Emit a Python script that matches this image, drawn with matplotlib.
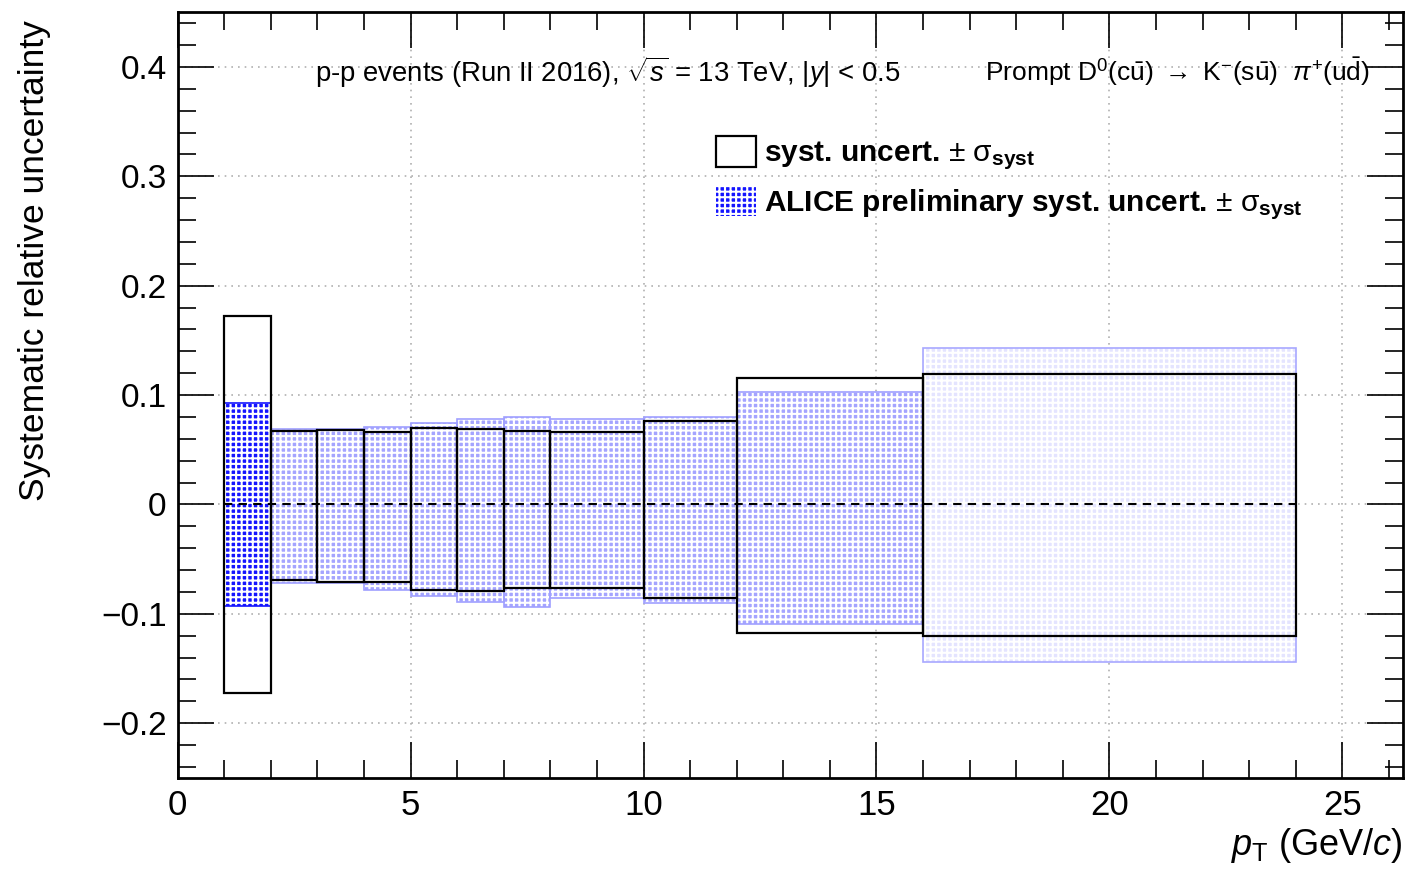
import matplotlib
matplotlib.use("Agg")
import matplotlib.pyplot as plt
from matplotlib.patches import Rectangle, Patch
from matplotlib.ticker import MultipleLocator

plt.rcParams['font.family'] = ['Liberation Sans', 'DejaVu Sans']
plt.rcParams['mathtext.fontset'] = 'custom'
plt.rcParams['mathtext.rm'] = 'Liberation Sans'
plt.rcParams['mathtext.it'] = 'Liberation Sans:italic'
plt.rcParams['mathtext.bf'] = 'Liberation Sans:bold'
plt.rcParams['hatch.linewidth'] = 1.5

# pT bin edges (GeV/c)
bin_lo = [1, 2, 3, 4, 5, 6, 7, 8, 10, 12, 16]
bin_hi = [2, 3, 4, 5, 6, 7, 8, 10, 12, 16, 24]

# syst. uncert. (black boxes), upper and lower
syst_up = [0.172, 0.067, 0.068, 0.066, 0.070, 0.069, 0.067, 0.066, 0.076, 0.116, 0.119]
syst_dn = [-0.172, -0.069, -0.071, -0.071, -0.078, -0.079, -0.076, -0.076, -0.086, -0.118, -0.120]

# ALICE preliminary syst. uncert. (blue boxes)
alice_up = [0.093, 0.069, 0.069, 0.071, 0.074, 0.078, 0.080, 0.078, 0.080, 0.103, 0.143]
alice_dn = [-0.093, -0.072, -0.072, -0.078, -0.084, -0.089, -0.094, -0.086, -0.090, -0.109, -0.144]

fig = plt.figure(figsize=(14.1, 8.72), dpi=100)
ax = fig.add_axes([0.126, 0.108, 0.869, 0.878])

HATCH = '+++'

# blue boxes
for i, (lo, hi, up, dn) in enumerate(zip(bin_lo, bin_hi, alice_up, alice_dn)):
    if i == 0:
        fc, ec = '#1414ff', '#1414ff'
    elif hi - lo > 4:
        fc, ec = '#e4e4ff', '#a8a8ff'
    else:
        fc, ec = '#a4a4ff', '#a0a0ff'
    ax.add_patch(Rectangle((lo, dn), hi - lo, up - dn, facecolor=fc, lw=0, zorder=2))
    ax.add_patch(Rectangle((lo, dn), hi - lo, up - dn, facecolor='none',
                           edgecolor='white', hatch=HATCH, lw=0, zorder=2.5))
    ax.add_patch(Rectangle((lo, dn), hi - lo, up - dn, facecolor='none',
                           edgecolor=ec, lw=1.2, zorder=3))

# black boxes
for lo, hi, up, dn in zip(bin_lo, bin_hi, syst_up, syst_dn):
    ax.add_patch(Rectangle((lo, dn), hi - lo, up - dn, facecolor='none',
                           edgecolor='black', lw=1.6, zorder=4))

ax.plot([bin_lo[0], bin_hi[-1]], [0, 0], color='black', ls=(0, (4, 3)), lw=1.5, zorder=5)

ax.set_xlim(0, 26.3)
ax.set_ylim(-0.25, 0.45)
ax.xaxis.set_major_locator(MultipleLocator(5))
ax.xaxis.set_minor_locator(MultipleLocator(1))
ax.yaxis.set_major_locator(MultipleLocator(0.1))
ax.yaxis.set_minor_locator(MultipleLocator(0.02))
ax.set_yticks([-0.2, -0.1, 0, 0.1, 0.2, 0.3, 0.4])
ax.set_yticklabels(['\u22120.2', '\u22120.1', '0', '0.1', '0.2', '0.3', '0.4'])
ax.tick_params(which='both', direction='in', top=True, right=True, width=1.2)
ax.tick_params(which='major', length=26)
ax.tick_params(which='minor', length=13)
ax.tick_params(axis='x', pad=8, labelsize=25)
ax.tick_params(axis='y', pad=8, labelsize=24)
ax.grid(True, which='major', color='#b0b0b0', ls=(0, (1, 3)), lw=1.2, zorder=0)
ax.set_axisbelow(True)
for s in ax.spines.values():
    s.set_linewidth(2)

ax.set_ylabel('Systematic relative uncertainty', fontsize=25.5)
ax.yaxis.set_label_coords(-0.103, 0.675)
ax.set_xlabel(r'$p_{\rm T}$ (GeV/$c$)', fontsize=26)
ax.xaxis.set_label_coords(1.0, -0.063)
ax.xaxis.label.set_horizontalalignment('right')
ax.xaxis.label.set_verticalalignment('top')

ax.text(315 / 1410, 1 - 72 / 872, r'p-p events (Run II 2016), $\sqrt{s}$ = 13 TeV, |$y$| < 0.5',
        transform=fig.transFigure, fontsize=19.8, va='center', ha='left')
ax.text(1370 / 1410, 1 - 72 / 872,
        r'Prompt D$^{0}$(c$\bar{\rm u}$) $\rightarrow$ K$^{-}$(s$\bar{\rm u}$)  $\pi^{+}$(u$\bar{\rm d}$)',
        transform=fig.transFigure, fontsize=19, va='center', ha='right')

handles = [Patch(facecolor='white', edgecolor='black', lw=1.6),
           Patch(facecolor='#1414ff', edgecolor='white', hatch=HATCH, lw=0)]
labels = [r'syst. uncert. $\pm$ $\mathrm{\sigma}_{\bf syst}$',
          r'ALICE preliminary syst. uncert. $\pm$ $\mathrm{\sigma}_{\bf syst}$']
leg = ax.legend(handles, labels, loc='upper left', bbox_to_anchor=(712 / 1410, 1 - 132 / 872),
                bbox_transform=fig.transFigure, frameon=False, prop={'weight': 'bold', 'size': 21.5},
                handlelength=1.34, handleheight=1.17, handletextpad=0.25, labelspacing=0.45,
                borderaxespad=0, borderpad=0.15)

fig.savefig('out.png', dpi=100)
